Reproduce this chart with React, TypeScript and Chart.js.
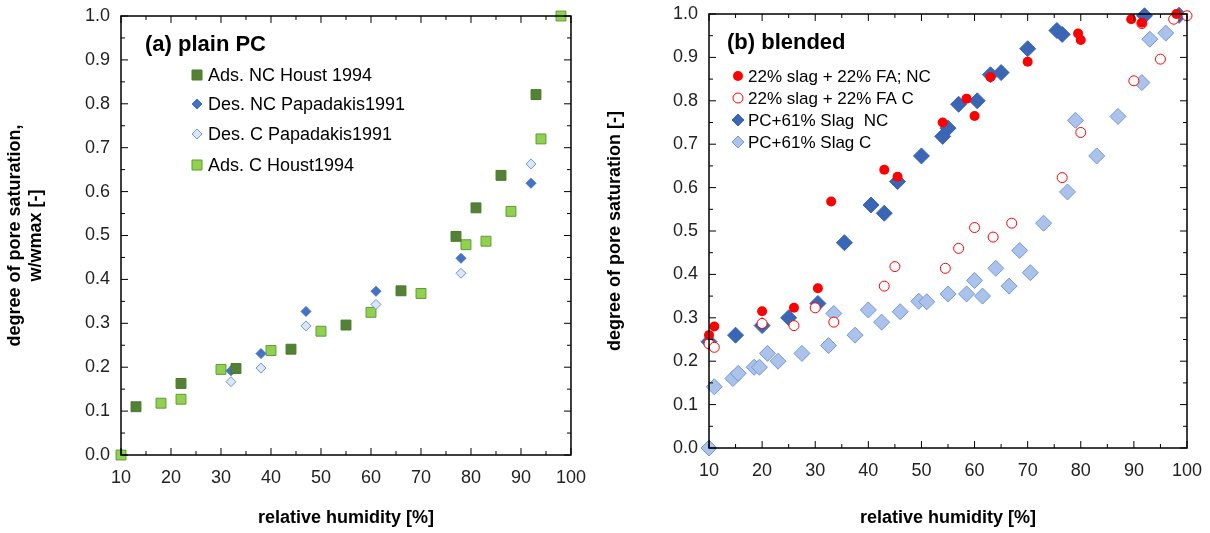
import { useEffect, useRef } from "react";
import { Chart, registerables } from "chart.js";

Chart.register(...registerables);

// (a) plain PC
const adsNcRh = [13, 22, 33, 44, 55, 66, 77, 81, 86, 93];
const adsNcS = [0.11, 0.163, 0.197, 0.241, 0.296, 0.374, 0.498, 0.563, 0.637, 0.821];
const desNcRh = [32, 38, 47, 61, 78, 92];
const desNcS = [0.192, 0.231, 0.327, 0.373, 0.448, 0.619];
const desCRh = [32, 38, 47, 61, 78, 92];
const desCS = [0.167, 0.198, 0.294, 0.343, 0.414, 0.663];
const adsCRh = [10, 18, 22, 30, 40, 50, 60, 70, 79, 83, 88, 94, 98];
const adsCS = [0, 0.118, 0.127, 0.195, 0.238, 0.282, 0.325, 0.368, 0.479, 0.487, 0.555, 0.72, 1.0];

// (b) blended
const faNcRh = [10, 11, 20, 26, 30.5, 33, 43, 45.5, 54, 58.5, 60, 63, 70, 79.5, 80, 89.5, 91.5, 98];
const faNcS = [0.26, 0.28, 0.315, 0.323, 0.368, 0.568, 0.641, 0.625, 0.75, 0.805, 0.765, 0.855, 0.89, 0.955, 0.94, 0.988, 0.98, 1.0];
const faCRh = [10, 11, 20, 26, 30, 33.5, 43, 45, 54.5, 57, 60, 63.5, 67, 76.5, 80, 90, 91.5, 95, 97.5, 100];
const faCS = [0.24, 0.232, 0.287, 0.282, 0.323, 0.29, 0.373, 0.418, 0.414, 0.46, 0.508, 0.486, 0.518, 0.623, 0.727, 0.846, 0.978, 0.896, 0.988, 0.996];
const slagNcRh = [10, 15, 20, 25, 30.5, 35.5, 40.5, 43, 45.5, 50, 54, 55, 57, 60.5, 63, 65, 70, 75.5, 76.5, 92, 98.5];
const slagNcS = [0.245, 0.26, 0.282, 0.3, 0.333, 0.473, 0.56, 0.541, 0.614, 0.673, 0.718, 0.737, 0.792, 0.8, 0.86, 0.865, 0.92, 0.962, 0.953, 0.996, 0.997];
const slagCRh = [10, 11, 14.5, 15.5, 18.5, 19.5, 21, 23, 27.5, 32.5, 33.5, 37.5, 40, 42.5, 46, 49.5, 51, 55, 58.5, 60, 61.5, 64, 66.5, 68.5, 70.5, 73, 77.5, 79, 83, 87, 91.5, 93, 96];
const slagCS = [0, 0.141, 0.16, 0.172, 0.186, 0.186, 0.218, 0.2, 0.218, 0.236, 0.31, 0.26, 0.318, 0.29, 0.314, 0.338, 0.337, 0.355, 0.355, 0.386, 0.35, 0.414, 0.373, 0.455, 0.404, 0.518, 0.59, 0.755, 0.673, 0.764, 0.842, 0.942, 0.956];

const FONT = "'Liberation Sans', Arial, sans-serif";
const pts = (xs: number[], ys: number[]) => xs.map((x, i) => ({ x, y: ys[i] }));

function framePlugin(title: string, legendFont: number, rowY: number[], markX: number, textX: number, titleX: number, titleY: number) {
  return {
    id: "frame",
    afterDatasetsDraw(chart: any) {
      const { ctx, chartArea: a, scales } = chart;
      ctx.save();
      ctx.strokeStyle = "#000";
      ctx.lineWidth = 1.5;
      ctx.strokeRect(a.left, a.top, a.right - a.left, a.bottom - a.top);
      ctx.lineWidth = 1;
      for (let v = 10; v <= 100; v += 5) {
        const x = scales.x.getPixelForValue(v);
        const l = v % 10 === 0 ? 7 : 4;
        ctx.beginPath();
        ctx.moveTo(x, a.bottom); ctx.lineTo(x, a.bottom - l);
        ctx.moveTo(x, a.top); ctx.lineTo(x, a.top + l);
        ctx.stroke();
      }
      for (let i = 0; i <= 20; i++) {
        const y = scales.y.getPixelForValue(i * 0.05);
        const l = i % 2 === 0 ? 7 : 4;
        ctx.beginPath();
        ctx.moveTo(a.left, y); ctx.lineTo(a.left + l, y);
        ctx.moveTo(a.right, y); ctx.lineTo(a.right - l, y);
        ctx.stroke();
      }
      ctx.fillStyle = "#000";
      ctx.font = `bold 22px ${FONT}`;
      ctx.textBaseline = "middle";
      ctx.fillText(title, titleX, titleY);
      ctx.font = `${legendFont}px ${FONT}`;
      chart.data.datasets.forEach((ds: any, i: number) => {
        const y = rowY[i];
        const r = ds.legendRadius;
        ctx.fillStyle = ds.backgroundColor;
        ctx.strokeStyle = ds.borderColor;
        ctx.lineWidth = ds.borderWidth;
        ctx.beginPath();
        if (ds.pointStyle === "rect") ctx.rect(markX - r, y - r, 2 * r, 2 * r);
        else if (ds.pointStyle === "rectRot") {
          ctx.moveTo(markX, y - r); ctx.lineTo(markX + r, y); ctx.lineTo(markX, y + r); ctx.lineTo(markX - r, y); ctx.closePath();
        } else ctx.arc(markX, y, r, 0, Math.PI * 2);
        ctx.fill();
        if (ds.borderWidth) ctx.stroke();
        ctx.fillStyle = "#000";
        ctx.fillText(ds.label, textX, y + 1);
      });
      ctx.restore();
    },
  };
}

function Panel(props: {
  datasets: any[]; yTitle: string | string[]; yWidth: number; xHeight: number;
  padTop: number; padRight: number; plugin: any; width: number;
}) {
  const ref = useRef<HTMLCanvasElement>(null);
  useEffect(() => {
    if (!ref.current) return;
    const chart = new Chart(ref.current, {
      type: "scatter",
      data: { datasets: props.datasets.map((d) => ({ ...d, clip: false })) },
      options: {
        animation: false,
        responsive: false,
        layout: { padding: { top: props.padTop, right: props.padRight, left: 0, bottom: 0 } },
        plugins: { legend: { display: false }, tooltip: { enabled: false } },
        scales: {
          x: {
            min: 10, max: 100,
            ticks: { stepSize: 10, color: "#222", font: { size: 18, family: FONT }, padding: 4 },
            grid: { display: false },
            border: { display: false },
            title: { display: true, text: "relative humidity [%]", color: "#000", font: { size: 18, weight: "bold", family: FONT }, padding: { top: 16 } },
            afterFit: (s: any) => { s.height = props.xHeight; },
          },
          y: {
            min: 0, max: 1,
            ticks: { stepSize: 0.1, color: "#222", font: { size: 18, family: FONT }, callback: (v: any) => Number(v).toFixed(1) },
            grid: { display: false },
            border: { display: false },
            title: { display: true, text: props.yTitle, color: "#000", font: { size: 18, weight: "bold", family: FONT }, padding: { bottom: 12 } },
            afterFit: (s: any) => { s.width = props.yWidth; },
          },
        },
      } as any,
      plugins: [props.plugin],
    });
    return () => chart.destroy();
  }, []);
  return <canvas ref={ref} width={props.width} height={533} />;
}

export default function App() {
  const left = [
    { label: "Ads. NC Houst 1994", data: pts(adsNcRh, adsNcS), pointStyle: "rect", pointRadius: 7, backgroundColor: "#538135", borderColor: "#4a7a2c", borderWidth: 1, legendRadius: 5 },
    { label: "Des. NC Papadakis1991", data: pts(desNcRh, desNcS), pointStyle: "rectRot", pointRadius: 5, backgroundColor: "#4472c4", borderColor: "#4472c4", borderWidth: 1, legendRadius: 5 },
    { label: "Des. C Papadakis1991", data: pts(desCRh, desCS), pointStyle: "rectRot", pointRadius: 5, backgroundColor: "#dbe6f6", borderColor: "#6f95d6", borderWidth: 1, legendRadius: 5 },
    { label: "Ads. C Houst1994", data: pts(adsCRh, adsCS), pointStyle: "rect", pointRadius: 7, backgroundColor: "#92d050", borderColor: "#5f9a35", borderWidth: 1, legendRadius: 5 },
  ];
  const right = [
    { label: "22% slag + 22% FA; NC", data: pts(faNcRh, faNcS), pointStyle: "circle", pointRadius: 5, backgroundColor: "#ff0000", borderColor: "#ff0000", borderWidth: 0, legendRadius: 5 },
    { label: "22% slag + 22% FA C", data: pts(faCRh, faCS), pointStyle: "circle", pointRadius: 5, backgroundColor: "#ffffff", borderColor: "#ff0000", borderWidth: 1, legendRadius: 5 },
    { label: "PC+61% Slag  NC", data: pts(slagNcRh, slagNcS), pointStyle: "rectRot", pointRadius: 8, backgroundColor: "#3a66b5", borderColor: "#3a66b5", borderWidth: 1, legendRadius: 6 },
    { label: "PC+61% Slag C", data: pts(slagCRh, slagCS), pointStyle: "rectRot", pointRadius: 8, backgroundColor: "#abc3ea", borderColor: "#7297d4", borderWidth: 1, legendRadius: 6 },
  ];
  return (
    <div style={{ position: "fixed", left: 0, top: 0, width: 1210, height: 533, background: "#fff" }}>
      <div style={{ position: "absolute", left: 0, top: 0 }}>
        <Panel datasets={left} yTitle={["degree of pore saturation,", "w/wmax [-]"]} yWidth={121} xHeight={78} padTop={16} padRight={18} width={590}
          plugin={framePlugin("(a) plain PC", 18, [75, 104, 134, 165], 197, 208, 145, 45)} />
      </div>
      <div style={{ position: "absolute", left: 600, top: 0 }}>
        <Panel datasets={right} yTitle="degree of pore saturation [-]" yWidth={109} xHeight={85} padTop={14} padRight={23} width={610}
          plugin={framePlugin("(b) blended", 17, [76, 98, 120, 142], 138, 148, 127, 43)} />
      </div>
    </div>
  );
}
